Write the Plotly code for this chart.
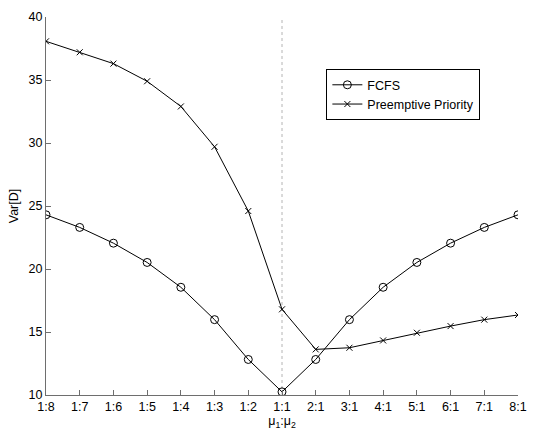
import plotly.graph_objects as go

ratios = ["1:8", "1:7", "1:6", "1:5", "1:4", "1:3", "1:2", "1:1",
          "2:1", "3:1", "4:1", "5:1", "6:1", "7:1", "8:1"]
fcfs = [24.3, 23.3, 22.05, 20.52, 18.55, 15.98, 12.82, 10.25,
        12.82, 15.98, 18.55, 20.52, 22.05, 23.3, 24.3]
preemptive = [38.07, 37.2, 36.3, 34.9, 32.9, 29.7, 24.6, 16.8,
              13.62, 13.75, 14.33, 14.94, 15.47, 15.98, 16.35]
yticks = [10, 15, 20, 25, 30, 35, 40]
divider = "1:1"

FONT = "Liberation Sans, Arial, Helvetica, sans-serif"
FS = 12.5

fig = go.Figure()
fig.add_trace(go.Scatter(
    x=ratios, y=fcfs, name="FCFS", mode="lines+markers",
    line=dict(color="black", width=1),
    marker=dict(symbol="circle-open", size=8, color="black", line=dict(width=1)),
))
fig.add_trace(go.Scatter(
    x=ratios, y=preemptive, name="Preemptive Priority", mode="lines+markers",
    line=dict(color="black", width=1),
    marker=dict(symbol="x-thin-open", size=6, color="black", line=dict(width=1, color="black")),
))

fig.add_shape(type="line", xref="x", yref="paper", x0=divider, x1=divider, y0=0, y1=1,
              line=dict(color="#b4b4b4", width=1, dash="dot"), layer="below")

fig.update_layout(
    width=535, height=433,
    margin=dict(l=46, r=8, t=17, b=38),
    paper_bgcolor="white", plot_bgcolor="white",
    font=dict(family=FONT, size=FS, color="black"),
    showlegend=True,
    legend=dict(x=0.594, y=0.862, xanchor="left", yanchor="top",
                bordercolor="black", borderwidth=1, bgcolor="white",
                font=dict(size=FS), tracegroupgap=0, itemwidth=30),
    xaxis=dict(
        type="category", categoryorder="array", categoryarray=ratios,
        range=[0, len(ratios) - 1],
        showline=True, linecolor="#6e6e6e", linewidth=1,
        ticks="inside", ticklen=5, tickcolor="#6e6e6e",
        showgrid=False, zeroline=False,
        title=dict(text="μ<sub>1</sub>:μ<sub>2</sub>", standoff=0, font=dict(size=FS)),
    ),
    yaxis=dict(
        range=[10, 40], tickvals=yticks,
        showline=True, linecolor="#6e6e6e", linewidth=1,
        ticks="inside", ticklen=5, tickcolor="#6e6e6e",
        showgrid=False, zeroline=False,
        title=dict(text="Var[D]", standoff=7, font=dict(size=FS)),
    ),
)

fig.write_html("out.html", config={"displayModeBar": False},
               post_script="document.body.style.margin='0';")
